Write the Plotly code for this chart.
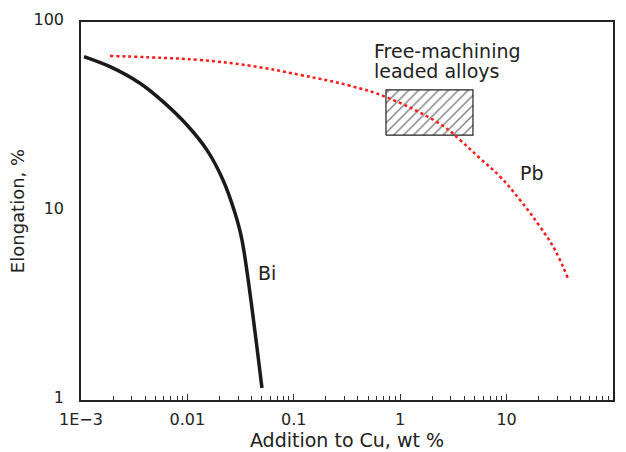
import math
import plotly.graph_objects as go

bi_x = [0.001067, 0.001874, 0.003584, 0.005898, 0.00991, 0.01528, 0.0216, 0.0280, 0.0326, 0.0502]
bi_y = [65.6, 58.0, 47.4, 37.9, 28.5, 21.0, 14.6, 9.76, 7.02, 1.157]

pb_x = [0.001874, 0.00445, 0.01314, 0.0388, 0.1144, 0.3375, 0.735, 2.455, 3.65, 5.62, 8.67, 13.36, 20.6, 28.5, 38.0]
pb_y = [66.1, 65.0, 62.9, 58.7, 52.5, 46.0, 40.1, 28.5, 23.75, 19.0, 15.2, 11.44, 8.26, 6.22, 4.35]

box_x = [0.735, 4.83]
box_y = [25.2, 43.7]

x_tickvals = [0.001, 0.01, 0.1, 1, 10, 100]
x_ticktext = ["1E\u22123", "0.01", "0.1", "1", "10", "100"]
x_minorvals = [m * 10 ** d for d in range(-3, 2) for m in range(2, 10)]
y_tickvals = [1, 10, 100]
y_ticktext = ["1", "10", "100"]

FONT = "DejaVu Sans, Verdana, sans-serif"
INK = "#222"
L = math.log10

fig = go.Figure()
fig.add_trace(go.Scatter(
    x=[box_x[0], box_x[1], box_x[1], box_x[0], box_x[0]],
    y=[box_y[0], box_y[0], box_y[1], box_y[1], box_y[0]],
    mode="lines", fill="toself", fillcolor="rgba(0,0,0,0)",
    fillpattern=dict(shape="/", fgcolor="#000", bgcolor="white", size=7, solidity=0.2),
    line=dict(color=INK, width=1.2), hoverinfo="skip", showlegend=False))
fig.add_trace(go.Scatter(x=bi_x, y=bi_y, mode="lines",
                         line=dict(color="#1a1a1a", width=3.5, shape="spline", smoothing=0.9),
                         showlegend=False))
fig.add_trace(go.Scatter(x=pb_x, y=pb_y, mode="lines",
                         line=dict(color="#ff1a1a", width=2.5, dash="dot", shape="spline", smoothing=1.2),
                         showlegend=False))

fig.add_annotation(x=L(0.555), y=L(70.2), text="Free-machining", showarrow=False, borderpad=0,
                   xanchor="left", yanchor="middle", font=dict(family=FONT, size=19, color=INK))
fig.add_annotation(x=L(0.555), y=L(55.2), text="leaded alloys", showarrow=False, borderpad=0,
                   xanchor="left", yanchor="middle", font=dict(family=FONT, size=19, color=INK))
fig.add_annotation(x=L(17.3), y=L(15.9), text="Pb", showarrow=False,
                   font=dict(family=FONT, size=19, color=INK))
fig.add_annotation(x=L(0.056), y=L(4.7), text="Bi", showarrow=False,
                   font=dict(family=FONT, size=19, color=INK))

fig.update_layout(
    width=626, height=452, paper_bgcolor="white", plot_bgcolor="white",
    margin=dict(l=81, r=13, t=22, b=52, autoexpand=False),
    font=dict(family=FONT, size=16, color=INK),
)
fig.update_xaxes(type="log", range=[-3, 2], tickmode="array", tickvals=x_tickvals, ticktext=x_ticktext,
                 tickfont=dict(family=FONT, size=16, color=INK),
                 ticks="inside", ticklen=6, tickcolor="#333", ticklabelstandoff=4,
                 showgrid=False, zeroline=False, automargin=False,
                 showline=True, linecolor=INK, linewidth=1.5, mirror=True,
                 minor=dict(tickmode="array", tickvals=x_minorvals, ticks="inside", ticklen=4,
                            tickcolor="#333", showgrid=False),
                 title=dict(text="Addition to Cu, wt %", standoff=6, font=dict(family=FONT, size=19)))
fig.update_yaxes(type="log", range=[0, 2], tickmode="array", tickvals=y_tickvals, ticktext=y_ticktext,
                 tickfont=dict(family=FONT, size=16, color=INK),
                 ticks="", showgrid=False, zeroline=False, automargin=False, ticklabelshift=-3,
                 ticklabelstandoff=12,
                 showline=True, linecolor=INK, linewidth=1.5, mirror=True,
                 title=dict(text="Elongation, %", standoff=4, font=dict(family=FONT, size=18)))

fig.write_html("out.html", config={"displayModeBar": False},
               post_script="document.body.style.margin='0px';")
